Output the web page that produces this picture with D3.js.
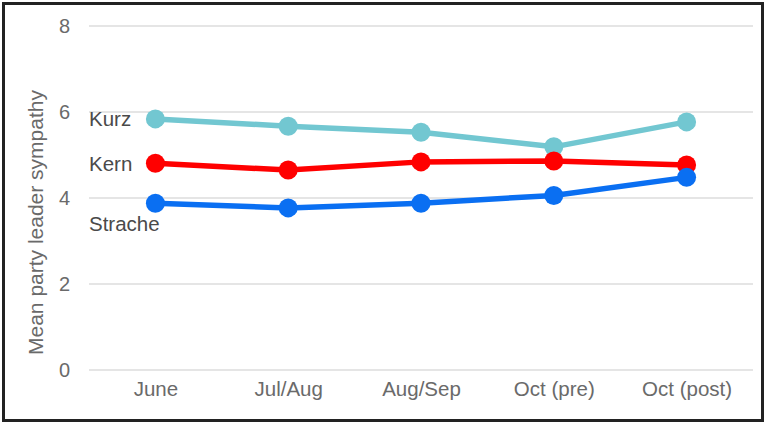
<!DOCTYPE html>
<html>
<head>
<meta charset="utf-8">
<script src="https://cdn.jsdelivr.net/npm/d3@7"></script>
<style>
  html, body { margin: 0; padding: 0; background: #fff; }
  svg { display: block; font-family: "Liberation Sans", Arial, Helvetica, sans-serif; }
</style>
</head>
<body>
<svg id="chart" width="766" height="424"></svg>
<script>
// Survey waves
const waves = ["June", "Jul/Aug", "Aug/Sep", "Oct (pre)", "Oct (post)"];

// Mean sympathy per party leader, one value per wave
const kurz    = [5.84, 5.67, 5.53, 5.19, 5.77];
const kern    = [4.81, 4.65, 4.84, 4.86, 4.77];
const strache = [3.88, 3.77, 3.88, 4.06, 4.48];

const leaderNames = ["Kurz", "Kern", "Strache"];
const leaderColors = ["#72C7D1", "#FF0000", "#0A6FF2"];

const yTicks = [0, 2, 4, 6, 8];
const yTitle = "Mean party leader sympathy";

const series = [
  { name: leaderNames[0], values: kurz,    color: leaderColors[0], labelY: 5.84 },
  { name: leaderNames[1], values: kern,    color: leaderColors[1], labelY: 4.81 },
  { name: leaderNames[2], values: strache, color: leaderColors[2], labelY: 3.4 }
];

const svg = d3.select("#chart");
const W = 766, H = 424;

// Outer frame
svg.append("rect")
  .attr("x", 3.5).attr("y", 3.5)
  .attr("width", W - 7).attr("height", H - 7)
  .attr("fill", "#fff").attr("stroke", "#222").attr("stroke-width", 3);

const plot = { left: 89, right: 753, top: 26, bottom: 370 };

const x = d3.scalePoint().domain(waves).range([plot.left, plot.right]).padding(0.5);
const y = d3.scaleLinear().domain([0, 8]).range([plot.bottom, plot.top]);

// Horizontal gridlines
svg.append("g")
  .selectAll("line")
  .data(yTicks)
  .join("line")
  .attr("x1", plot.left).attr("x2", plot.right)
  .attr("y1", d => y(d)).attr("y2", d => y(d))
  .attr("stroke", "#dcdcdc").attr("stroke-width", 1.5);

// Y axis labels
const yAxis = d3.axisLeft(y).tickValues(yTicks).tickSize(0).tickPadding(0);
const gy = svg.append("g").attr("transform", "translate(70,0)").call(yAxis);
gy.select(".domain").remove();
gy.selectAll("text")
  .attr("font-size", 20).attr("fill", "#6a6a6a")
  .style("font-family", "Liberation Sans, Arial, sans-serif");

// X axis labels
const xAxis = d3.axisBottom(x).tickSize(0).tickPadding(0);
const gx = svg.append("g").attr("transform", "translate(0,381)").call(xAxis);
gx.select(".domain").remove();
gx.selectAll("text")
  .attr("font-size", 20.5).attr("fill", "#6a6a6a")
  .style("font-family", "Liberation Sans, Arial, sans-serif");

// Y axis title
svg.append("text")
  .attr("transform", `translate(43,${(90 + 355) / 2}) rotate(-90)`)
  .attr("text-anchor", "middle")
  .attr("font-size", 21).attr("fill", "#6a6a6a")
  .text(yTitle);

// Lines and markers
const line = d3.line().x((d, i) => x(waves[i])).y(d => y(d));

series.forEach(s => {
  const g = svg.append("g");
  g.append("path")
    .attr("d", line(s.values))
    .attr("fill", "none")
    .attr("stroke", s.color)
    .attr("stroke-width", 5.5)
    .attr("stroke-linejoin", "round");
  g.selectAll("circle")
    .data(s.values)
    .join("circle")
    .attr("cx", (d, i) => x(waves[i]))
    .attr("cy", d => y(d))
    .attr("r", 9.5)
    .attr("fill", s.color);
});

// Series name labels on the left
svg.append("g")
  .selectAll("text")
  .data(series)
  .join("text")
  .attr("x", plot.left)
  .attr("y", d => y(d.labelY))
  .attr("dy", "0.36em")
  .attr("font-size", 20.5)
  .attr("fill", "#4a4a4a")
  .text(d => d.name);
</script>
</body>
</html>
